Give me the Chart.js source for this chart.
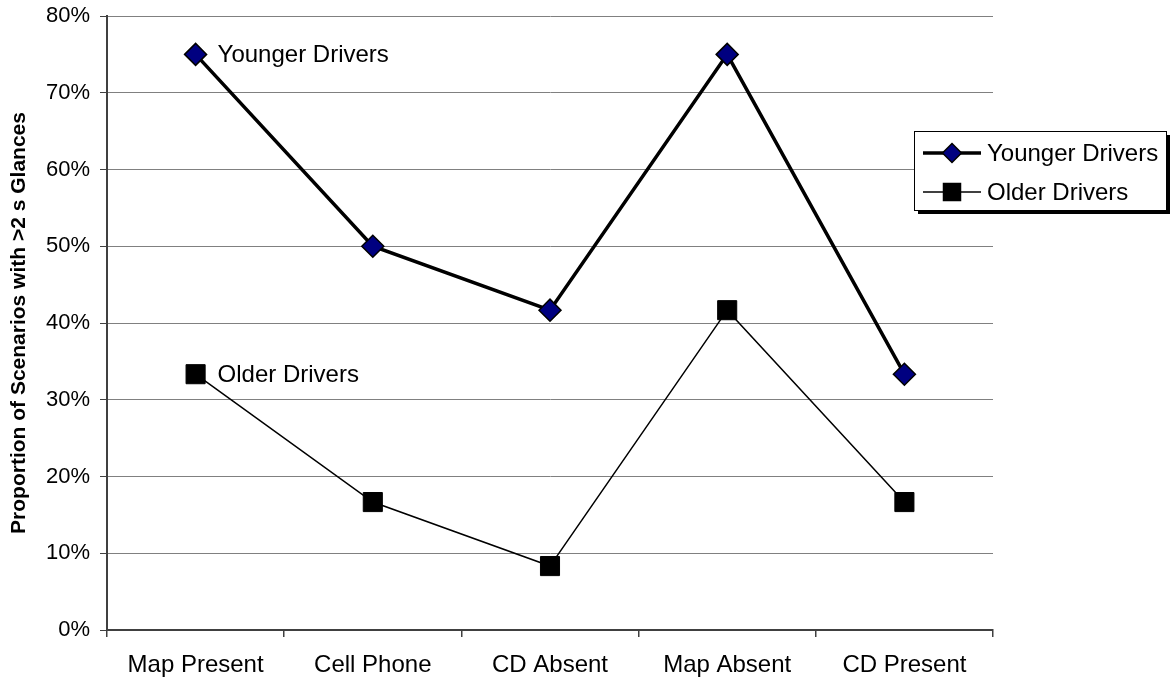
<!DOCTYPE html>
<html>
<head>
<meta charset="utf-8">
<script src="https://cdn.jsdelivr.net/npm/chart.js@4.4.0/dist/chart.umd.min.js"></script>
<style>
  html, body { margin: 0; padding: 0; background: #ffffff; }
  #wrap { width: 1171px; height: 678px; position: relative; }
</style>
</head>
<body>
<div id="wrap"><canvas id="chart" width="1171" height="678"></canvas></div>
<script>
// Scenario categories along the x axis
const scenarios = ['Map Present', 'Cell Phone', 'CD Absent', 'Map Absent', 'CD Present'];
// Share of scenarios with glances longer than 2 s, in percent
const youngerDrivers = [75, 50, 41.67, 75, 33.33];
const olderDrivers = [33.33, 16.67, 8.33, 41.67, 16.67];
// Y axis range and step, in percent
const yTicks = { min: 0, max: 80, step: 10 };
const seriesNames = ['Younger Drivers', 'Older Drivers'];

const FONT = "'Liberation Sans', Arial, sans-serif";
const AXIS = '#404040';
const GRID = '#808080';
const NAVY = '#000080';
const LABEL_SIZE = 24;

// Name printed next to the first point of each series
const seriesLabels = {
  id: 'seriesLabels',
  afterDatasetsDraw(chart) {
    const ctx = chart.ctx;
    ctx.save();
    ctx.font = LABEL_SIZE + 'px ' + FONT;
    ctx.fillStyle = '#000';
    ctx.textAlign = 'left';
    ctx.textBaseline = 'middle';
    chart.data.datasets.forEach((ds, i) => {
      const pt = chart.getDatasetMeta(i).data[0];
      ctx.fillText(ds.label, pt.x + 22, pt.y + 1);
    });
    ctx.restore();
  }
};

// Boxed legend with a drop shadow at the right of the plot
const boxLegend = {
  id: 'boxLegend',
  afterDraw(chart) {
    const ctx = chart.ctx;
    const x = 914, y = 131, w = 252, h = 79;
    ctx.save();
    ctx.fillStyle = '#000';
    ctx.fillRect(x + 4, y + 4, w, h);
    ctx.fillStyle = '#fff';
    ctx.fillRect(x, y, w, h);
    ctx.strokeStyle = '#000';
    ctx.lineWidth = 1;
    ctx.strokeRect(x + 0.5, y + 0.5, w, h);

    const rows = [
      { ds: chart.data.datasets[0], cy: 153 },
      { ds: chart.data.datasets[1], cy: 192 }
    ];
    rows.forEach(r => {
      ctx.strokeStyle = '#000';
      ctx.lineWidth = r.ds.borderWidth;
      ctx.beginPath();
      ctx.moveTo(923, r.cy);
      ctx.lineTo(981, r.cy);
      ctx.stroke();
      ctx.fillStyle = r.ds.pointBackgroundColor;
      ctx.lineWidth = 1.5;
      ctx.beginPath();
      if (r.ds.pointStyle === 'rectRot') {
        const s = 9.5;
        ctx.moveTo(952, r.cy - s);
        ctx.lineTo(952 + s, r.cy);
        ctx.lineTo(952, r.cy + s);
        ctx.lineTo(952 - s, r.cy);
        ctx.closePath();
      } else {
        ctx.rect(952 - 8.5, r.cy - 8.5, 17, 17);
      }
      ctx.fill();
      ctx.stroke();
      ctx.fillStyle = '#000';
      ctx.font = LABEL_SIZE + 'px ' + FONT;
      ctx.textAlign = 'left';
      ctx.textBaseline = 'middle';
      ctx.fillText(r.ds.label, 987, r.cy + 1);
    });
    ctx.restore();
  }
};

new Chart(document.getElementById('chart'), {
  type: 'line',
  data: {
    labels: scenarios,
    datasets: [
      {
        label: seriesNames[0],
        data: youngerDrivers,
        borderColor: '#000',
        borderWidth: 3.5,
        pointStyle: 'rectRot',
        pointRadius: 11,
        pointHoverRadius: 11,
        pointBackgroundColor: NAVY,
        pointBorderColor: '#000',
        pointBorderWidth: 1.5,
        tension: 0
      },
      {
        label: seriesNames[1],
        data: olderDrivers,
        borderColor: '#000',
        borderWidth: 1.5,
        pointStyle: 'rect',
        pointRadius: 13.5,
        pointHoverRadius: 13.5,
        pointBackgroundColor: '#000',
        pointBorderColor: '#000',
        pointBorderWidth: 1,
        tension: 0
      }
    ]
  },
  options: {
    responsive: false,
    animation: false,
    events: [],
    layout: { padding: { left: 0, right: 178, top: 16, bottom: 0 } },
    plugins: {
      legend: { display: false },
      tooltip: { enabled: false }
    },
    scales: {
      x: {
        offset: true,
        grid: {
          offset: true,
          drawOnChartArea: false,
          drawTicks: true,
          tickLength: 7,
          color: AXIS,
          lineWidth: 1.5
        },
        border: { display: true, color: AXIS, width: 2 },
        ticks: {
          font: { family: FONT, size: LABEL_SIZE },
          color: '#000',
          padding: 14,
          maxRotation: 0,
          autoSkip: false
        },
        afterFit(scale) { scale.height = 48; }
      },
      y: {
        min: yTicks.min,
        max: yTicks.max,
        grid: {
          color: GRID,
          lineWidth: 1,
          drawTicks: true,
          tickLength: 7,
          tickColor: AXIS
        },
        border: { display: true, color: AXIS, width: 2 },
        ticks: {
          stepSize: yTicks.step,
          font: { family: FONT, size: 22 },
          color: '#000',
          padding: 10,
          callback: v => v + '%'
        },
        title: {
          display: true,
          text: 'Proportion of Scenarios with >2 s Glances',
          font: { family: FONT, size: 21, weight: 'bold' },
          color: '#000',
          padding: { top: 7, bottom: 0 }
        },
        afterFit(scale) {
          scale.width = 107;
          scale.paddingTop = 0;
        }
      }
    }
  },
  plugins: [seriesLabels, boxLegend]
});
</script>
</body>
</html>
